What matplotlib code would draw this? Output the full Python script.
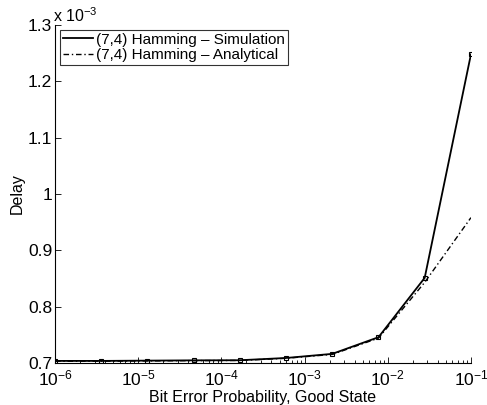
import numpy as np
import matplotlib
matplotlib.use("Agg")
import matplotlib.pyplot as plt
from matplotlib.ticker import LogLocator, NullFormatter

plt.rcParams["font.family"] = ["Liberation Sans", "DejaVu Sans"]
plt.rcParams["mathtext.fontset"] = "custom"
plt.rcParams["mathtext.rm"] = "Liberation Sans"

# bit error probability in the good state
ber = [1e-6, 3.59e-6, 1.29e-5, 4.64e-5, 1.67e-4,
       5.99e-4, 2.15e-3, 7.74e-3, 2.78e-2, 1e-1]
# delay, in units of 1e-3
delay_sim = [0.7035, 0.7035, 0.7040, 0.7045, 0.7047,
             0.7087, 0.7160, 0.7456, 0.8510, 1.2480]
delay_ana = [0.7030, 0.7030, 0.7035, 0.7040, 0.7043,
             0.7082, 0.7150, 0.7440, 0.8430, 0.9580]

fig = plt.figure(figsize=(4.87, 4.05), dpi=100)
ax = fig.add_axes([0.113, 0.104, 0.854, 0.834])

ax.plot(ber, delay_sim, "-", color="black", lw=1.3,
        label="(7,4) Hamming \u2013 Simulation")
ax.plot(ber, delay_ana, color="black", lw=1.0, dashes=[4, 2, 1, 2],
        label="(7,4) Hamming \u2013 Analytical")
ax.plot(ber, delay_sim, "s", color="black", ms=3.5, mfc="none", mew=0.8)

ax.set_xscale("log")
ax.set_xlim(1e-6, 1e-1)
ax.set_ylim(0.7, 1.3)
ax.set_yticks([0.7, 0.8, 0.9, 1.0, 1.1, 1.2, 1.3])
ax.set_yticklabels(["0.7", "0.8", "0.9", "1", "1.1", "1.2", "1.3"])
ax.xaxis.set_major_locator(LogLocator(base=10, numticks=10))
ax.xaxis.set_minor_locator(LogLocator(base=10, subs=np.arange(2, 10), numticks=10))
ax.xaxis.set_minor_formatter(NullFormatter())

ax.spines["top"].set_visible(False)
ax.spines["right"].set_visible(False)
for s in ("left", "bottom"):
    ax.spines[s].set_linewidth(0.8)
ax.tick_params(which="both", direction="in", labelsize=12.5, width=0.6)
ax.tick_params(which="major", length=4)
ax.tick_params(which="minor", length=2)
ax.tick_params(axis="x", pad=4)
ax.tick_params(axis="y", pad=2)

ax.set_xlabel("Bit Error Probability, Good State", fontsize=11.5, labelpad=1)
ax.set_ylabel("Delay", fontsize=11.5, labelpad=2)
ax.text(-0.005, 1.0, r"x 10$^{-3}$", transform=ax.transAxes,
        fontsize=11.5, ha="left", va="bottom")

leg = ax.legend(loc="upper left", fontsize=11, frameon=True, fancybox=False,
                borderaxespad=0.3, handlelength=2.0, handletextpad=0.2,
                borderpad=0.2, labelspacing=0.1)
leg.get_frame().set_edgecolor("black")
leg.get_frame().set_linewidth(0.8)

fig.savefig("out.png", dpi=100)
